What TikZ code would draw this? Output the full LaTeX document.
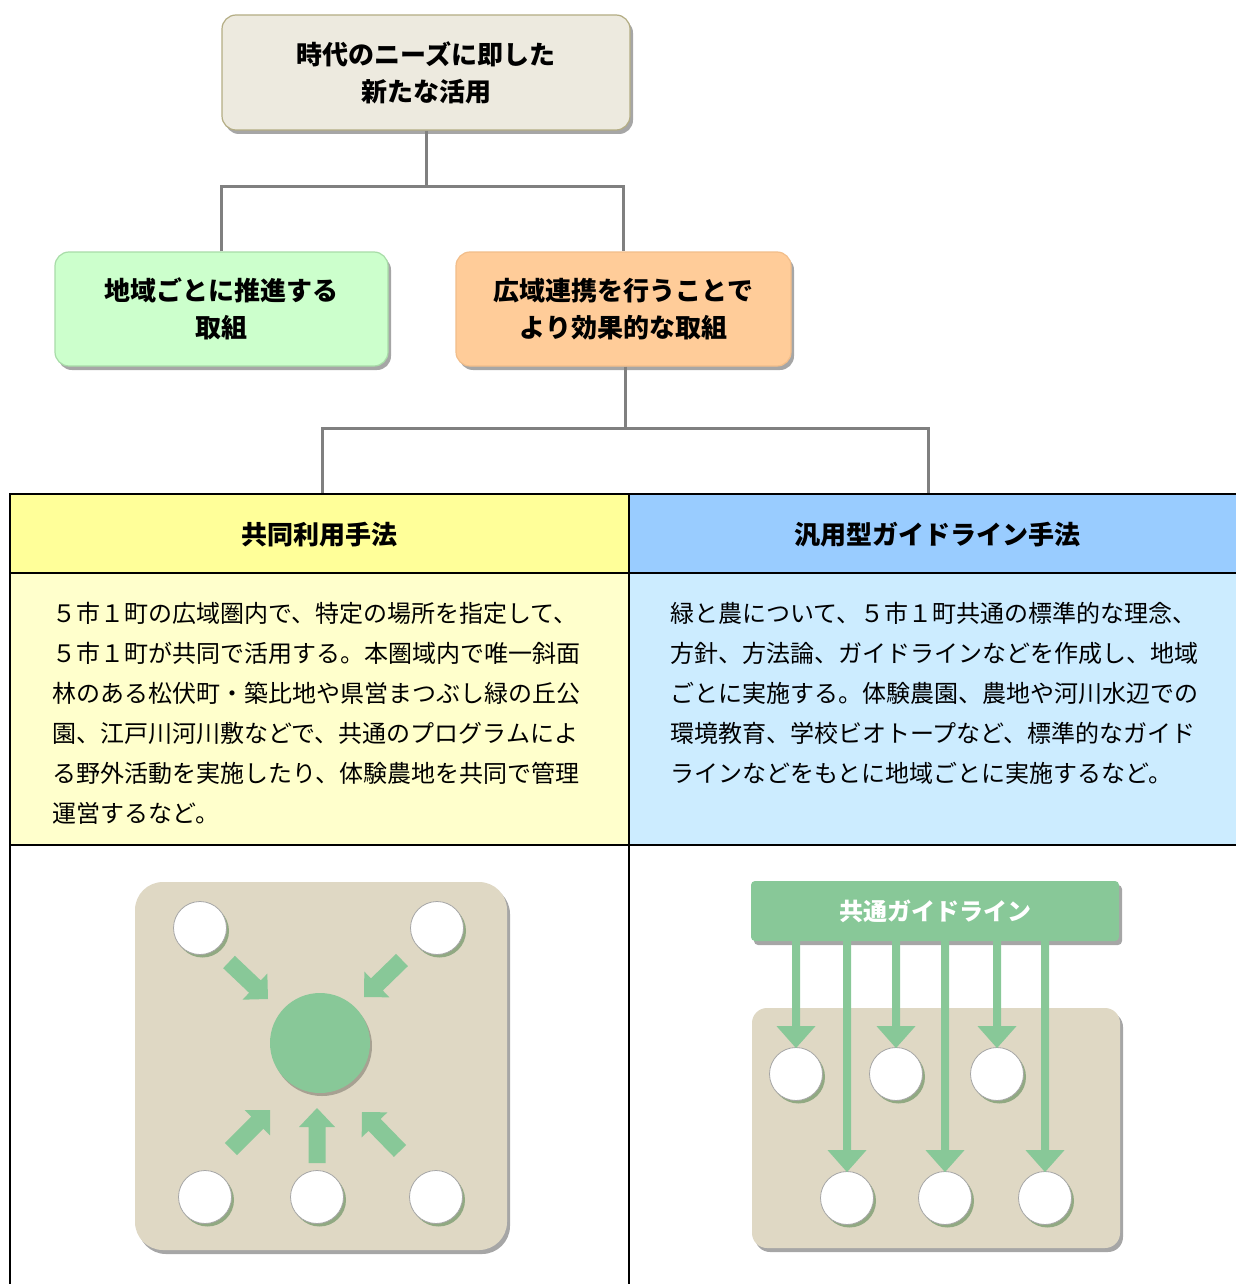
\documentclass[tikz,border=0pt]{standalone}
\usepackage{fontspec}
\setmainfont{Noto Sans CJK JP}
\usetikzlibrary{calc,shadows}
\definecolor{conngray}{HTML}{808080}
\definecolor{topfill}{HTML}{EDEADF}
\definecolor{topborder}{HTML}{B4AD84}
\definecolor{grfill}{HTML}{CCFFCC}
\definecolor{grborder}{HTML}{A8DCA8}
\definecolor{orfill}{HTML}{FFCC99}
\definecolor{orborder}{HTML}{F2BE8A}
\definecolor{hyellow}{HTML}{FFFF99}
\definecolor{hblue}{HTML}{99CCFF}
\definecolor{byellow}{HTML}{FFFFCC}
\definecolor{bblue}{HTML}{CCECFF}
\definecolor{leaf}{HTML}{88C898}
\definecolor{beige}{HTML}{DFD8C4}
\newcommand\blkarrow[6]{%
  \coordinate (bah) at ($(#2)!#5!(#1)$);
  \fill[#6] ($(#1)!#3!90:(#2)$) -- ($(bah)!#3!90:(#2)$) -- ($(bah)!#4!90:(#2)$) -- (#2)
    -- ($(bah)!#4!-90:(#2)$) -- ($(bah)!#3!-90:(#2)$) -- ($(#1)!#3!-90:(#2)$) -- cycle;}
\begin{document}
\begin{tikzpicture}[x=1pt,y=-1pt,
  shad/.style={drop shadow={shadow xshift=3pt,shadow yshift=-4pt,opacity=0.35,fill=black}},
  box/.style={rounded corners=14pt, line width=1.2pt, align=center, inner sep=0pt,
    font=\fontsize{26pt}{37pt}\selectfont\bfseries, shad},
  conn/.style={draw=conngray, line width=3pt},
  cell/.style={inner sep=0pt, draw=none},
  head/.style={font=\fontsize{26pt}{30pt}\selectfont\bfseries},
  bodyline/.style={anchor=west, inner sep=0pt, font=\fontsize{24pt}{40pt}\selectfont},
  tline/.style={draw=black, line width=1.5pt},
  dot/.style={circle, fill=white, draw=gray!70, line width=0.8pt, minimum size=53pt, inner sep=0pt,
    drop shadow={shadow xshift=2.5pt,shadow yshift=-3pt,opacity=0.45,fill=black!60!green!60!gray}},
  plate/.style={fill=beige, inner sep=0pt, shad}
]
\useasboundingbox (0,0) rectangle (1236,1284);
\fill[white] (0,0) rectangle (1236,1284);

% hierarchy boxes
\node[box, draw=topborder, fill=topfill, minimum width=408pt, minimum height=115pt] (top) at (426,72.5) {時代のニーズに即した\\新たな活用};
\node[box, draw=grborder, fill=grfill, minimum width=333pt, minimum height=114pt] (green) at (221.5,309) {地域ごとに推進する\\取組};
\node[box, draw=orborder, fill=orfill, minimum width=335pt, minimum height=114pt] (orange) at (623.5,309) {広域連携を行うことで\\より効果的な取組};

% table cells
\node[cell, fill=hyellow, minimum width=619pt, minimum height=79pt] (hl) at (319.5,533.5) {};
\node[cell, fill=hblue, minimum width=607pt, minimum height=79pt] (hr) at (932.5,533.5) {};
\node[cell, fill=byellow, minimum width=619pt, minimum height=272pt] (bl) at (319.5,709) {};
\node[cell, fill=bblue, minimum width=607pt, minimum height=272pt] (br) at (932.5,709) {};
\node[head] (hlt) at (319.5,535) {共同利用手法};
\node[head] (hrt) at (937,535) {汎用型ガイドライン手法};

% connectors
\coordinate (j1) at (426,187);
\draw[conn] (top.south) -- (j1);
\draw[conn] (green.north) -- (green.north |- j1) -- (orange.north |- j1) -- (orange.north);
\coordinate (j2) at (625,428);
\draw[conn] (orange.south -| j2) -- (j2);
\coordinate (hlc) at (322,494);
\coordinate (hrc) at (928,494);
\draw[conn] (hlc) -- (hlc |- j2) -- (hrc |- j2) -- (hrc);

% table lines
\draw[tline] (10,494) -- (1236,494);
\draw[tline] (10,573) -- (1236,573);
\draw[line width=2.5pt] (10,845) -- (1236,845);
\draw[tline] (10,493.25) -- (10,1284);
\draw[tline] (629,493.25) -- (629,1284);

% body text
\node[bodyline] (l1) at (52,613) {５市１町の広域圏内で、特定の場所を指定して、};
\node[bodyline] (l2) at (52,653) {５市１町が共同で活用する。本圏域内で唯一斜面};
\node[bodyline] (l3) at (52,693) {林のある松伏町・築比地や県営まつぶし緑の丘公};
\node[bodyline] (l4) at (52,733) {園、江戸川河川敷などで、共通のプログラムによ};
\node[bodyline] (l5) at (52,773) {る野外活動を実施したり、体験農地を共同で管理};
\node[bodyline] (l6) at (52,813) {運営するなど。};
\node[bodyline] (r1t) at (670,613) {緑と農について、５市１町共通の標準的な理念、};
\node[bodyline] (r2t) at (670,653) {方針、方法論、ガイドラインなどを作成し、地域};
\node[bodyline] (r3t) at (670,693) {ごとに実施する。体験農園、農地や河川水辺での};
\node[bodyline] (r4t) at (670,733) {環境教育、学校ビオトープなど、標準的なガイド};
\node[bodyline] (r5t) at (670,773) {ラインなどをもとに地域ごとに実施するなど。};

% left diagram
\node[plate, rounded corners=28pt, minimum width=372pt, minimum height=368pt] (lp) at (321,1066) {};
\node[circle, fill=leaf, minimum size=100pt, inner sep=0pt,
  drop shadow={shadow xshift=2pt,shadow yshift=-3pt,opacity=0.25,fill=black}] (hub) at (320,1043) {};
\node[dot] (p1) at (200,928) {};
\node[dot] (p2) at (437,928) {};
\node[dot] (p3) at (205,1197) {};
\node[dot] (p4) at (317,1197) {};
\node[dot] (p5) at (436,1197) {};
\coordinate (a1s) at (229,962);  \coordinate (a1e) at (268,999);
\coordinate (a2s) at (402,960);  \coordinate (a2e) at (364,997);
\coordinate (a3s) at (231,1149); \coordinate (a3e) at (270,1110);
\coordinate (a4s) at (317,1163); \coordinate (a4e) at (317,1108);
\coordinate (a5s) at (400,1151); \coordinate (a5e) at (362,1112);
\blkarrow{a1s}{a1e}{8.5pt}{18pt}{18pt}{leaf}
\blkarrow{a2s}{a2e}{8.5pt}{18pt}{18pt}{leaf}
\blkarrow{a3s}{a3e}{8.5pt}{18pt}{18pt}{leaf}
\blkarrow{a4s}{a4e}{8.5pt}{18pt}{19pt}{leaf}
\blkarrow{a5s}{a5e}{8.5pt}{18pt}{18pt}{leaf}

% right diagram
\node[plate, rounded corners=15pt, minimum width=368pt, minimum height=240pt] (rp) at (936,1128) {};
\node[fill=leaf, rounded corners=4pt, inner sep=0pt, minimum width=368pt, minimum height=60pt,
  text=white, font=\fontsize{24pt}{28pt}\selectfont\bfseries, shad] (bar) at (935,911) {共通ガイドライン};
\node[dot] (q1) at (796,1074) {};
\node[dot] (q2) at (896,1074) {};
\node[dot] (q3) at (997,1074) {};
\node[dot] (q4) at (847,1198) {};
\node[dot] (q5) at (945,1198) {};
\node[dot] (q6) at (1045,1198) {};
\foreach \q in {q1,q2,q3,q4,q5,q6}{
  \coordinate (\q s) at (bar.south -| \q);
  \coordinate (\q e) at ($(\q.north)+(0,1)$);
  \blkarrow{\q s}{\q e}{4pt}{19.5pt}{22pt}{leaf}
}
\end{tikzpicture}
\end{document}
